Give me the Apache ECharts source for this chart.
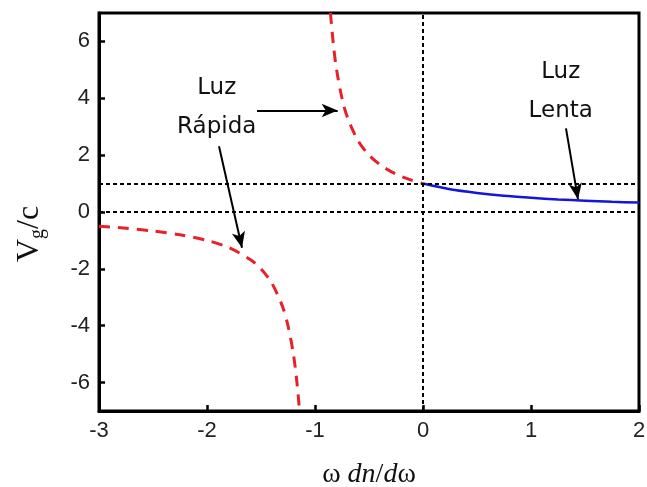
<!DOCTYPE html>
<html>
<head>
<meta charset="utf-8">
<script src="https://cdn.jsdelivr.net/npm/echarts@6/dist/echarts.min.js"></script>
<style>html,body{margin:0;padding:0;background:#fff}#c{width:647px;height:487px}</style>
</head>
<body>
<div id="c"></div>
<script>
// Values
var fastX1 = [-3, -2.75, -2.5, -2.25, -2, -1.8, -1.6, -1.5, -1.4, -1.3, -1.25, -1.2, -1.17, -1.143];
var fastY1 = [-0.5, -0.57, -0.67, -0.8, -1.0, -1.25, -1.67, -2.0, -2.5, -3.33, -4.0, -5.0, -5.9, -7.0];
var fastX2 = [-0.857, -0.83, -0.8, -0.75, -0.7, -0.6, -0.5, -0.4, -0.3, -0.2, -0.1, 0];
var fastY2 = [7.0, 5.9, 5.0, 4.0, 3.33, 2.5, 2.0, 1.67, 1.43, 1.25, 1.11, 1.0];
var slowX = [0, 0.25, 0.5, 0.75, 1, 1.25, 1.5, 1.75, 2];
var slowY = [1.0, 0.8, 0.67, 0.57, 0.5, 0.44, 0.4, 0.36, 0.33];
var refY = [0, 1];
var refX = [0];
var xTicks = [-3, -2, -1, 0, 1, 2];
var yTicks = [-6, -4, -2, 0, 2, 4, 6];
var labelFast = 'Luz\nRápida';
var labelSlow = 'Luz\nLenta';

function zip(a, b) { return a.map(function (v, i) { return [v, b[i]]; }); }

var chart = echarts.init(document.getElementById('c'), null, {renderer: 'canvas'});
var red = '#e8202a', blue = '#1515d8';
var dotted = {color: '#000', width: 2, type: [4, 3]};
var tickFont = {fontFamily: 'Liberation Sans', fontSize: 22, color: '#222'};

var option = {
  animation: false,
  backgroundColor: '#fff',
  grid: {left: 99, right: 8, top: 13, bottom: 76, show: true, borderColor: '#000', borderWidth: 3,
    containLabel: false, outerBoundsMode: 'none'},
  graphic: [{
    type: 'text', x: 30, y: 234, rotation: Math.PI / 2,
    style: {
      text: '{v|V}{s|g}{v|/c}', align: 'center', verticalAlign: 'middle',
      rich: {
        v: {fontFamily: 'Liberation Serif', fontSize: 32, fill: '#111'},
        s: {fontFamily: 'Liberation Serif', fontSize: 20, fill: '#111', padding: [16, 0, 0, 0]}
      }
    }
  }],
  xAxis: {
    type: 'value', min: -3, max: 2, interval: 1,
    name: '{n|ω }{i|dn}{n|/}{i|d}{n|ω}',
    nameLocation: 'middle', nameGap: 50,
    nameTextStyle: {rich: {
      n: {fontFamily: 'Liberation Serif', fontSize: 28, color: '#111'},
      i: {fontFamily: 'Liberation Serif', fontStyle: 'italic', fontSize: 28, color: '#111'}
    }},
    axisLine: {onZero: false, lineStyle: {color: '#000', width: 3}},
    axisTick: {inside: true, length: 6, customValues: xTicks, lineStyle: {color: '#000', width: 2.5}},
    splitLine: {show: false},
    axisLabel: Object.assign({margin: 9, customValues: xTicks}, tickFont)
  },
  yAxis: {
    type: 'value', min: -7, max: 7, interval: 1,
    axisLine: {onZero: false, lineStyle: {color: '#000', width: 3}},
    axisTick: {inside: true, length: 6, customValues: yTicks, lineStyle: {color: '#000', width: 2.5}},
    splitLine: {show: false},
    axisLabel: Object.assign({margin: 9, customValues: yTicks}, tickFont)
  },
  series: [
    {
      type: 'line', data: [], silent: true,
      markLine: {
        silent: true, symbol: ['none', 'none'], label: {show: false},
        lineStyle: dotted,
        data: refY.map(function (y) { return {yAxis: y}; })
          .concat(refX.map(function (x) { return {xAxis: x}; }))
      }
    },
    {
      type: 'line', data: zip(fastX1, fastY1), smooth: 0.3, symbol: 'none', clip: true,
      lineStyle: {color: red, width: 3, type: [11, 8]}
    },
    {
      type: 'line', data: zip(fastX2, fastY2), smooth: 0.3, symbol: 'none', clip: true,
      lineStyle: {color: red, width: 3, type: [11, 8]}
    },
    {
      type: 'line', data: zip(slowX, slowY), smooth: 0.3, symbol: 'none',
      lineStyle: {color: blue, width: 2.5}
    },
    {
      type: 'line', data: [], silent: true,
      markLine: {
        silent: true, symbol: ['none', 'arrow'], symbolSize: [10, 16], label: {show: false},
        lineStyle: {color: '#000', width: 2, type: 'solid'},
        data: [
          [{coord: [-1.537, 3.57]}, {coord: [-0.79, 3.57]}],
          [{coord: [-1.889, 2.31]}, {coord: [-1.676, -1.26]}],
          [{coord: [1.324, 2.94]}, {coord: [1.435, 0.45]}]
        ]
      },
      markPoint: {
        silent: true, symbol: 'circle', symbolSize: 0,
        label: {show: true, position: 'inside', fontFamily: 'DejaVu Sans', fontSize: 23,
          color: '#111', lineHeight: 39, align: 'center', verticalAlign: 'middle'},
        data: [
          {coord: [-1.91, 3.66], value: labelFast, label: {formatter: labelFast}},
          {coord: [1.275, 4.23], value: labelSlow, label: {formatter: labelSlow}}
        ]
      }
    }
  ]
};
chart.setOption(option);
</script>
</body>
</html>
